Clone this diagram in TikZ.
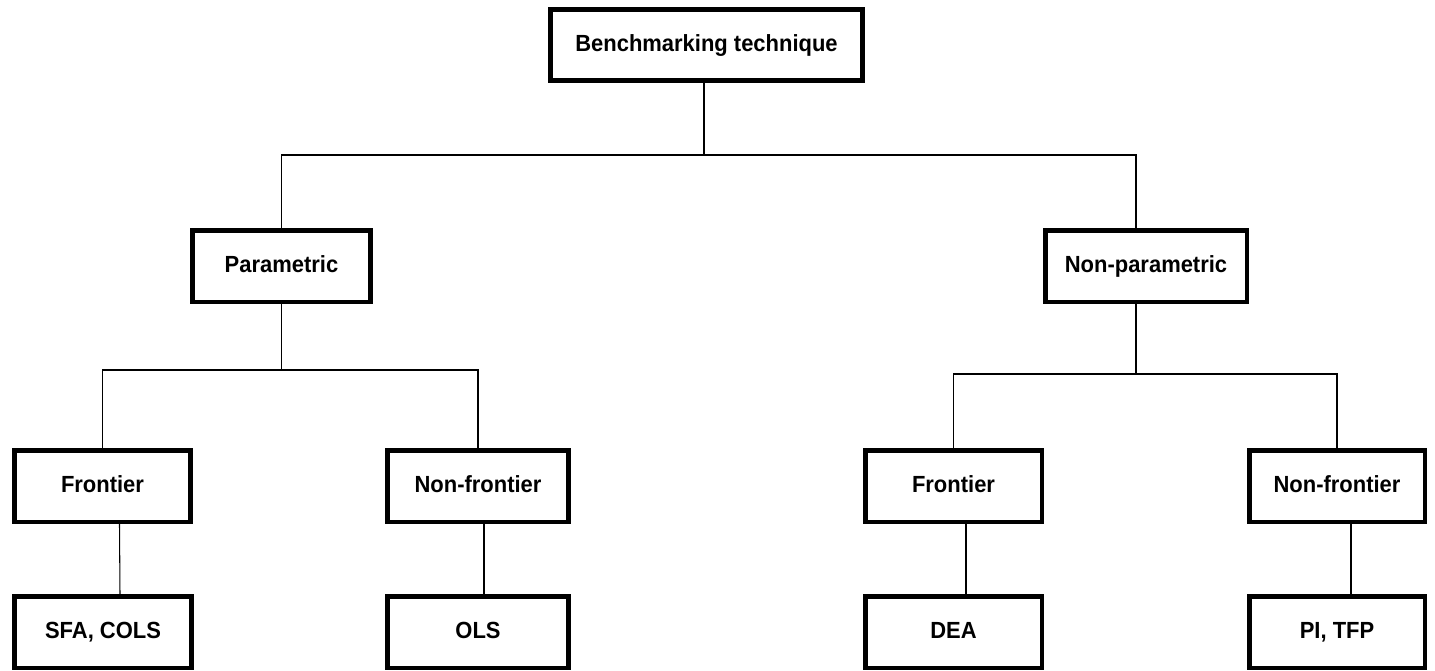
\documentclass[tikz,border=0pt]{standalone}
\usepackage{fontspec}
\setmainfont{Liberation Sans}[FakeStretch=0.94]
\usepackage{tikz}

\begin{document}
\begin{tikzpicture}[x=0.02cm, y=-0.02cm,
  box/.style={draw, line width=0.09cm, align=center, minimum height=1.43cm, inner sep=2pt, text height=0.75em, text depth=0.05em, font=\bfseries\fontsize{13.3}{16}\selectfont},
  link/.style={line width=0.6pt}
]
\useasboundingbox (0,0) rectangle (1435,670);
% root
\node[box, minimum width=6.25cm] (bench)  at (706.5,45) {Benchmarking technique};
% second level
\node[box, minimum width=3.57cm] (param)  at (281.5,266) {Parametric};
\node[box, minimum width=4.03cm] (nonpar) at (1146,266) {Non-parametric};
% third level
\node[box, minimum width=3.53cm] (pfront) at (102.5,486) {Frontier};
\node[box, minimum width=3.63cm] (pnonf)  at (478,486)   {Non-frontier};
\node[box, minimum width=3.53cm] (nfront) at (953.5,486) {Frontier};
\node[box, minimum width=3.51cm] (nnonf)  at (1337,486)  {Non-frontier};
% methods
\node[box, minimum width=3.55cm] (sfa)   at (103,632)    {SFA, COLS};
\node[box, minimum width=3.63cm] (ols)   at (478,632)    {OLS};
\node[box, minimum width=3.53cm] (dea)   at (953.5,632)  {DEA};
\node[box, minimum width=3.51cm] (pitfp) at (1337,632)   {PI, TFP};
% junctions
\coordinate (j0) at (704,155);
\coordinate (j1) at (281.5,370);
\coordinate (j2) at (1136,374);
\draw[link] (bench.south -| j0) -- (j0);
\draw[link] (param) |- (j0) -| (nonpar.north -| j2);
\draw[link] (param) -- (j1);
\draw[link] (pfront) |- (j1) -| (pnonf);
\draw[link] (nonpar.south -| j2) -- (j2);
\draw[link] (nfront) |- (j2) -| (nnonf);
\draw[link] ([xshift=0.34cm]pfront.south) -- ([xshift=0.34cm]sfa.north);
\draw[link] ([xshift=0.12cm]pnonf.south) -- ([xshift=0.12cm]ols.north);
\draw[link] ([xshift=0.25cm]nfront.south) -- ([xshift=0.25cm]dea.north);
\draw[link] ([xshift=0.28cm]nnonf.south) -- ([xshift=0.28cm]pitfp.north);
\end{tikzpicture}
\end{document}
